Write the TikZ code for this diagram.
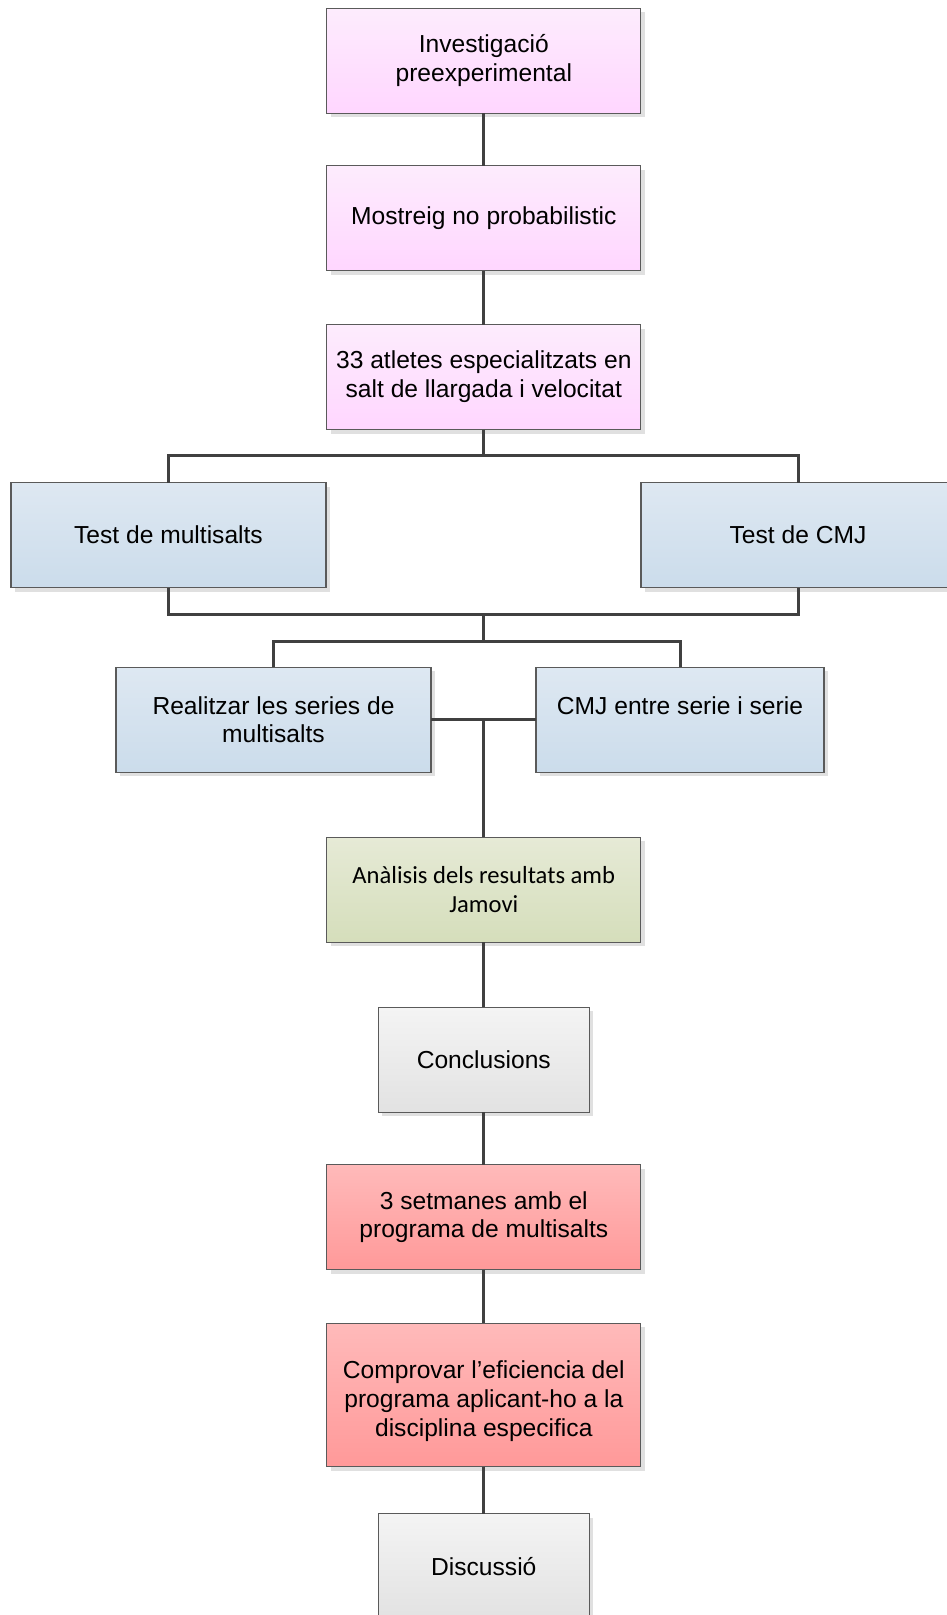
\documentclass[tikz,border=0pt]{standalone}
\usepackage{fontspec}
\setmainfont{Liberation Sans}
\newfontfamily\calibrifont{Carlito}
\usetikzlibrary{positioning, shadows}

\definecolor{pinktop}{RGB}{253,236,253}
\definecolor{pinkbot}{RGB}{255,214,255}
\definecolor{bluetop}{RGB}{222,232,242}
\definecolor{bluebot}{RGB}{203,220,235}
\definecolor{greentop}{RGB}{230,234,214}
\definecolor{greenbot}{RGB}{213,222,187}
\definecolor{graytop}{RGB}{244,244,244}
\definecolor{graybot}{RGB}{226,226,226}
\definecolor{redtop}{RGB}{255,186,186}
\definecolor{redbot}{RGB}{255,153,153}
\definecolor{boxline}{RGB}{90,90,90}
\definecolor{linkgray}{RGB}{64,64,64}
\definecolor{shadowgray}{RGB}{224,224,224}

\begin{document}
\begin{tikzpicture}[
			x=1pt, y=1pt,
			every node/.style={outer sep=0pt},
			box/.style={draw=boxline, line width=1.1pt, rectangle, align=center, minimum width=314pt, minimum height=105pt, inner sep=2pt, font=\fontsize{24.6}{28.8}\selectfont, general shadow={fill=shadowgray, shadow xshift=4pt, shadow yshift=-4pt}},
			pinkbox/.style={box, top color=pinktop, bottom color=pinkbot},
			bluebox/.style={box, top color=bluetop, bottom color=bluebot},
			greenbox/.style={box, top color=greentop, bottom color=greenbot, font=\calibrifont\fontsize{24.6}{28.8}\selectfont},
			graybox/.style={box, minimum width=211pt, top color=graytop, bottom color=graybot},
			redbox/.style={box, top color=redtop, bottom color=redbot},
			link/.style={draw=linkgray, line width=3pt}
			]
			
			\useasboundingbox (0,0) rectangle (947,-1615);
			
			% Nodes
			\node (inv) [pinkbox] at (483.8,-60.8) {Investigació\\preexperimental};
			\node (mostreig) [pinkbox, below=52.6pt of inv] {Mostreig no probabilistic};
			\node (atletes) [pinkbox, below=53.6pt of mostreig] {33 atletes especialitzats en\\salt de llargada i velocitat};
			\node (test_multi) [bluebox, minimum width=315pt, below=53pt of atletes, xshift=-315.3pt] {Test de multisalts};
			\node (test_cmj) [bluebox, below=53pt of atletes, xshift=314.2pt] {Test de CMJ};
			\node (series) [bluebox, minimum width=315pt, below=79.7pt of test_multi, xshift=105pt] {Realitzar les series de\\multisalts};
			\node (cmj_serie) [bluebox, minimum width=288pt, below=79.7pt of test_cmj, xshift=-118pt] {CMJ entre serie i serie\\\mbox{}};
			\coordinate (peu) at (series.south -| atletes.south);
			\node (analisi) [greenbox, below=65pt of peu] {Anàlisis dels resultats amb\\Jamovi};
			\node (conclusions) [graybox, below=65pt of analisi] {Conclusions};
			\node (setmanes) [redbox, below=52.5pt of conclusions] {3 setmanes amb el\\programa de multisalts};
			\node (comprovar) [redbox, minimum height=143.5pt, below=53.4pt of setmanes] {\rule{0pt}{30pt}Comprovar l’eficiencia del\\programa aplicant-ho a la\\disciplina especifica};
			\node (discussio) [graybox, below=47.3pt of comprovar] {Discussió};
			
			% Branch points
			\path (atletes.south) ++(0,-26) coordinate (rama1);
			\path (test_multi.south) ++(0,-27) coordinate (bm);
			\coordinate (rama2) at (bm -| atletes);
			\path (series.north) ++(0,26) coordinate (sm);
			\coordinate (rama3) at (sm -| atletes);
			\coordinate (cruce) at (series.east -| atletes);
			
			% Connections
			\draw [link] (inv) -- (mostreig);
			\draw [link] (mostreig) -- (atletes);
			\draw [link] (atletes.south) -- (rama1);
			\draw [link] (test_multi.north) |- (rama1) -| (test_cmj.north);
			\draw [link] (test_multi.south) |- (rama2) -| (test_cmj.south);
			\draw [link] (rama2) -- (rama3);
			\draw [link] (series.north) |- (rama3) -| (cmj_serie.north);
			\draw [link] (series.east) -- (cmj_serie.west);
			\draw [link] (cruce) -- (analisi);
			\draw [link] (analisi) -- (conclusions);
			\draw [link] (conclusions) -- (setmanes);
			\draw [link] (setmanes) -- (comprovar);
			\draw [link] (comprovar) -- (discussio);
			
		\end{tikzpicture}
\end{document}
